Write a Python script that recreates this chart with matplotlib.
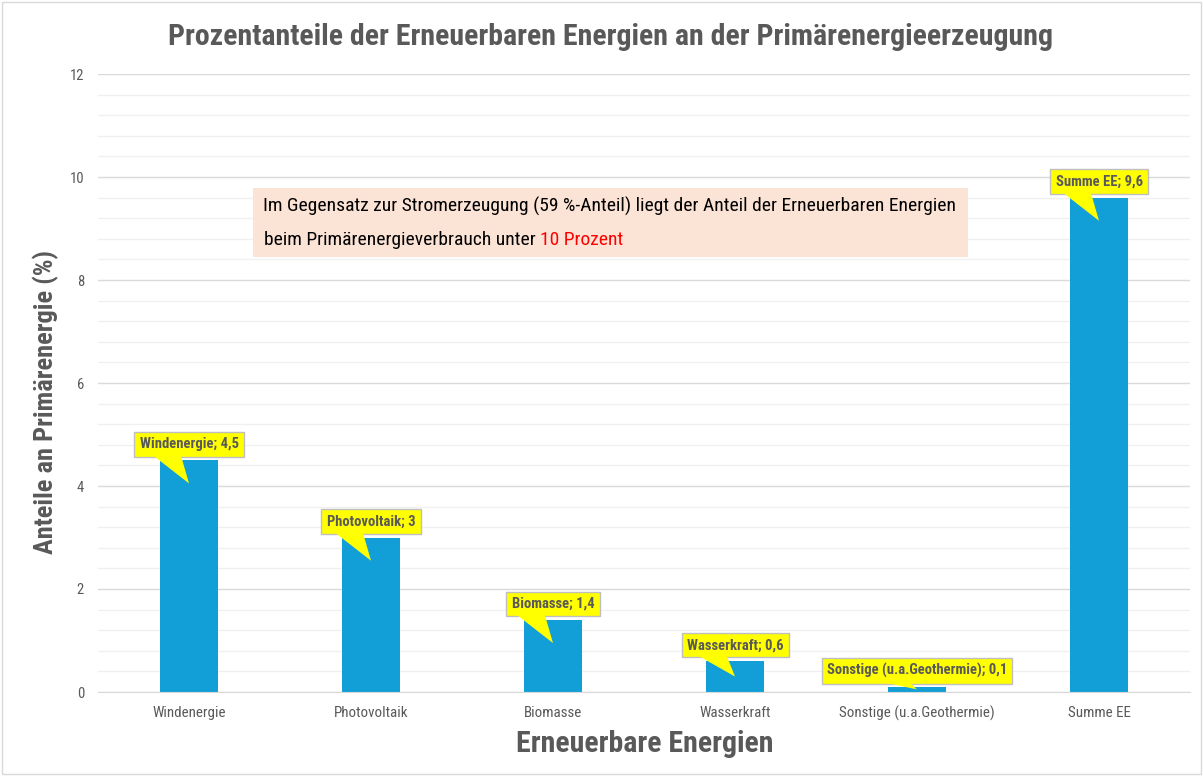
import matplotlib
matplotlib.use('Agg')
import matplotlib.pyplot as plt
from matplotlib.patches import Rectangle, Polygon
from matplotlib.ticker import MultipleLocator

categories = ['Windenergie', 'Photovoltaik', 'Biomasse', 'Wasserkraft',
              'Sonstige (u.a.Geothermie)', 'Summe EE']
values = [4.5, 3.0, 1.4, 0.6, 0.1, 9.6]
value_labels = ['4,5', '3', '1,4', '0,6', '0,1', '9,6']

TITLE = 'Prozentanteile der Erneuerbaren Energien an der Primärenergieerzeugung'
YLABEL = 'Anteile an Primärenergie (%)'
XLABEL = 'Erneuerbare Energien'
NOTE_1 = 'Im Gegensatz zur Stromerzeugung (59 %-Anteil) liegt der Anteil der Erneuerbaren Energien'
NOTE_2 = 'beim Primärenergieverbrauch unter '
NOTE_RED = '10 Prozent'

GRAY = '#595959'
FONT = ['Roboto Condensed', 'Roboto', 'DejaVu Sans']

fig = plt.figure(figsize=(12.03, 7.76), dpi=100)
ax = fig.add_axes([98 / 1203, 1 - 692 / 776, 1092 / 1203, 618 / 776])

x = range(len(categories))
ax.bar(x, values, width=0.32, color='#129ED6', zorder=2)

ax.set_xlim(-0.5, len(categories) - 0.5)
ax.set_ylim(0, 12)
ax.yaxis.set_major_locator(MultipleLocator(2))
ax.yaxis.set_minor_locator(MultipleLocator(0.4))
ax.grid(which='major', axis='y', color='#D9D9D9', lw=1, zorder=0)
ax.grid(which='minor', axis='y', color='#F0F0F0', lw=1, zorder=0)
ax.set_axisbelow(True)
for s in ['top', 'right', 'left']:
    ax.spines[s].set_visible(False)
ax.spines['bottom'].set_color('#D9D9D9')
ax.tick_params(which='both', length=0)
ax.tick_params(axis='y', labelsize=10.5, labelcolor=GRAY, pad=10)
ax.tick_params(axis='x', labelsize=10.8, labelcolor=GRAY, pad=10)
ax.set_xticks(list(x))
ax.set_xticklabels(categories)
for lab in ax.get_xticklabels() + ax.get_yticklabels():
    lab.set_family(FONT)

# callouts: yellow box + pointer towards the bar
for i, (cat, v, lab) in enumerate(zip(categories, values, value_labels)):
    tip = max(v - 0.45, v / 2)
    ax.text(i, v + 0.31, f'{cat}; {lab}', ha='center', va='center',
            fontsize=10.5, fontweight='bold', color=GRAY, family=FONT, zorder=5,
            bbox=dict(boxstyle='square,pad=0.36', fc='#FFFF00', ec='#BFBFBF', lw=1))
    ax.add_patch(Polygon([(i - 0.2, v + 0.1), (i - 0.045, v + 0.1), (i, tip)],
                         closed=True, fc='#FFFF00', ec='none', zorder=6))

# note box
ax.add_patch(Rectangle((0.142, 0.704), 0.655, 0.112, transform=ax.transAxes,
                       fc='#FBE3D6', ec='none', zorder=3))
ax.text(0.151, 0.785, NOTE_1, transform=ax.transAxes, fontsize=14,
        family=FONT, va='center', zorder=4)
t2 = ax.text(0.152, 0.731, NOTE_2, transform=ax.transAxes, fontsize=14,
             family=FONT, va='center', zorder=4)
ax.annotate(NOTE_RED, xy=(1, 0), xycoords=t2, va='bottom', fontsize=14,
            family=FONT, color='red', zorder=4)

fig.text(610 / 1203, 1 - 37 / 776, TITLE, ha='center', va='center',
         fontsize=21.5, fontweight='bold', color=GRAY, family=FONT)
fig.text(46 / 1203, 1 - 402 / 776, YLABEL, ha='center', va='center', rotation=90,
         fontsize=19, fontweight='bold', color=GRAY, family=FONT)
fig.text(645 / 1203, 1 - 744 / 776, XLABEL, ha='center', va='center',
         fontsize=21.5, fontweight='bold', color=GRAY, family=FONT)

fig.patches.append(Rectangle((0.002, 0.002), 0.996, 0.996, transform=fig.transFigure,
                             fill=False, ec='#D9D9D9', lw=1))

fig.savefig('out.png', dpi=100)
